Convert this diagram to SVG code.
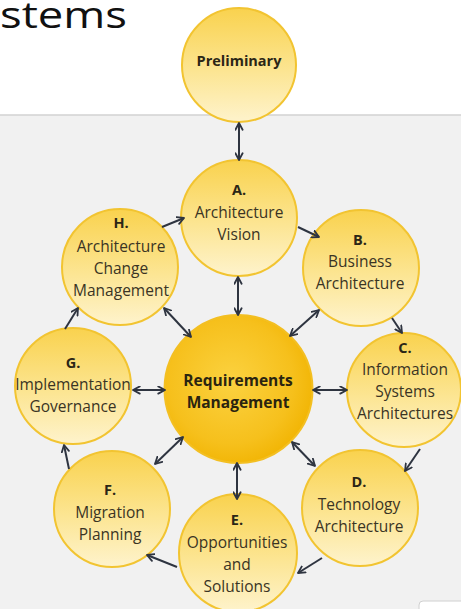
<svg xmlns="http://www.w3.org/2000/svg" width="461" height="609" viewBox="0 0 461 609">
  <defs>
    <linearGradient id="ringFill" x1="0" y1="0" x2="0" y2="1">
      <stop offset="0" stop-color="#f9d24e"/>
      <stop offset="0.55" stop-color="#fce592"/>
      <stop offset="1" stop-color="#fef3cc"/>
    </linearGradient>
    <radialGradient id="coreFill" cx="0.45" cy="0.45" r="0.6">
      <stop offset="0" stop-color="#fbd240"/>
      <stop offset="0.7" stop-color="#f6c01c"/>
      <stop offset="1" stop-color="#f1b300"/>
    </radialGradient>
    <marker id="head" viewBox="0 0 10 10" refX="8.5" refY="5" markerWidth="9" markerHeight="9" markerUnits="userSpaceOnUse" orient="auto-start-reverse">
      <path d="M1,1 L8.5,5 L1,9" fill="none" stroke="#2e3440" stroke-width="2" stroke-linecap="round" stroke-linejoin="round"/>
    </marker>
    <style>
      .ring { fill: url(#ringFill); stroke: #f2c431; stroke-width: 2; }
      .core { fill: url(#coreFill); stroke: #f3bf22; stroke-width: 2; }
      .t { font-family: "Open Sans", "Liberation Sans", sans-serif; font-size: 15.5px; fill: #3a3424; text-anchor: middle; }
      .b { font-family: "Open Sans", "Liberation Sans", sans-serif; font-weight: bold; font-size: 14.5px; fill: #2b2616; text-anchor: middle; }
      .core-t { font-family: "Open Sans", "Liberation Sans", sans-serif; font-weight: bold; font-size: 15.5px; fill: #2a2410; text-anchor: middle; }
      .link { fill: none; stroke: #2e3440; stroke-width: 2; }
      .one { marker-end: url(#head); }
      .two { marker-start: url(#head); marker-end: url(#head); }
    </style>
  </defs>

  <!-- page background and panel -->
  <rect x="0" y="0" width="461" height="609" fill="#ffffff"/>
  <rect x="0" y="115" width="461" height="494" fill="#f1f1f1"/>
  <line x1="0" y1="115" x2="461" y2="115" stroke="#d2d2d2" stroke-width="1.5"/>
  <rect x="419" y="601" width="50" height="20" rx="4" fill="#ffffff" stroke="#d0d0d0" stroke-width="1"/>

  <!-- slide title fragment -->
  <text x="0" y="28" font-family="'Open Sans', 'Liberation Sans', sans-serif" font-size="37" fill="#111111" textLength="127" lengthAdjust="spacingAndGlyphs">stems</text>

  <g id="preliminary">
    <circle class="ring" cx="239" cy="65" r="57"/>
    <text class="b" x="239" y="66">Preliminary</text>
  </g>

  <g id="phase-a">
    <circle class="ring" cx="239" cy="218" r="58"/>
    <text class="b" x="239" y="195">A.</text>
    <text class="t" x="239" y="218">Architecture</text>
    <text class="t" x="239" y="240">Vision</text>
  </g>

  <g id="phase-b">
    <circle class="ring" cx="361" cy="268" r="58"/>
    <text class="b" x="360" y="245">B.</text>
    <text class="t" x="360" y="267">Business</text>
    <text class="t" x="360" y="289">Architecture</text>
  </g>

  <g id="phase-c">
    <circle class="ring" cx="404" cy="390" r="57"/>
    <text class="b" x="405" y="353">C.</text>
    <text class="t" x="405" y="375">Information</text>
    <text class="t" x="405" y="397">Systems</text>
    <text class="t" x="405" y="419">Architectures</text>
  </g>

  <g id="phase-d">
    <circle class="ring" cx="360" cy="508" r="58"/>
    <text class="b" x="359" y="487">D.</text>
    <text class="t" x="359" y="510">Technology</text>
    <text class="t" x="359" y="532">Architecture</text>
  </g>

  <g id="phase-e">
    <circle class="ring" cx="238" cy="553" r="59"/>
    <text class="b" x="237" y="525">E.</text>
    <text class="t" x="237" y="548">Opportunities</text>
    <text class="t" x="237" y="570">and</text>
    <text class="t" x="237" y="592">Solutions</text>
  </g>

  <g id="phase-f">
    <circle class="ring" cx="112" cy="509" r="58"/>
    <text class="b" x="110" y="495">F.</text>
    <text class="t" x="110" y="518">Migration</text>
    <text class="t" x="110" y="540">Planning</text>
  </g>

  <g id="phase-g">
    <circle class="ring" cx="73" cy="386" r="58"/>
    <text class="b" x="73" y="368">G.</text>
    <text class="t" x="73" y="390">Implementation</text>
    <text class="t" x="73" y="412">Governance</text>
  </g>

  <g id="phase-h">
    <circle class="ring" cx="120" cy="267" r="58"/>
    <text class="b" x="121" y="228">H.</text>
    <text class="t" x="121" y="252">Architecture</text>
    <text class="t" x="121" y="274">Change</text>
    <text class="t" x="121" y="296">Management</text>
  </g>

  <g id="requirements">
    <circle class="core" cx="238.5" cy="389" r="74"/>
    <text class="core-t" x="238" y="386">Requirements</text>
    <text class="core-t" x="238" y="408">Management</text>
  </g>

  <!-- connectors, drawn above the circles so each tip meets its rim -->
  <g id="connectors">
    <line class="link two" x1="239" y1="123" x2="239" y2="160"/>
    <line class="link one" x1="162" y1="227" x2="184" y2="218"/>
    <line class="link one" x1="298" y1="227" x2="319" y2="237"/>
    <line class="link two" x1="238" y1="277" x2="238" y2="315"/>
    <line class="link two" x1="319" y1="310" x2="290" y2="336"/>
    <line class="link one" x1="392" y1="318" x2="402" y2="333"/>
    <line class="link two" x1="164" y1="308" x2="191" y2="337"/>
    <line class="link one" x1="65" y1="329" x2="78" y2="308"/>
    <line class="link two" x1="133" y1="390" x2="165" y2="390"/>
    <line class="link two" x1="313" y1="390" x2="347" y2="390"/>
    <line class="link one" x1="69" y1="469" x2="64" y2="445"/>
    <line class="link two" x1="155" y1="464" x2="183" y2="437"/>
    <line class="link two" x1="237" y1="463" x2="237" y2="499"/>
    <line class="link two" x1="292" y1="442" x2="315" y2="466"/>
    <line class="link one" x1="420" y1="449" x2="405" y2="471"/>
    <line class="link one" x1="322" y1="558" x2="298" y2="573"/>
    <line class="link one" x1="177" y1="567" x2="147" y2="555"/>
  </g>
</svg>
